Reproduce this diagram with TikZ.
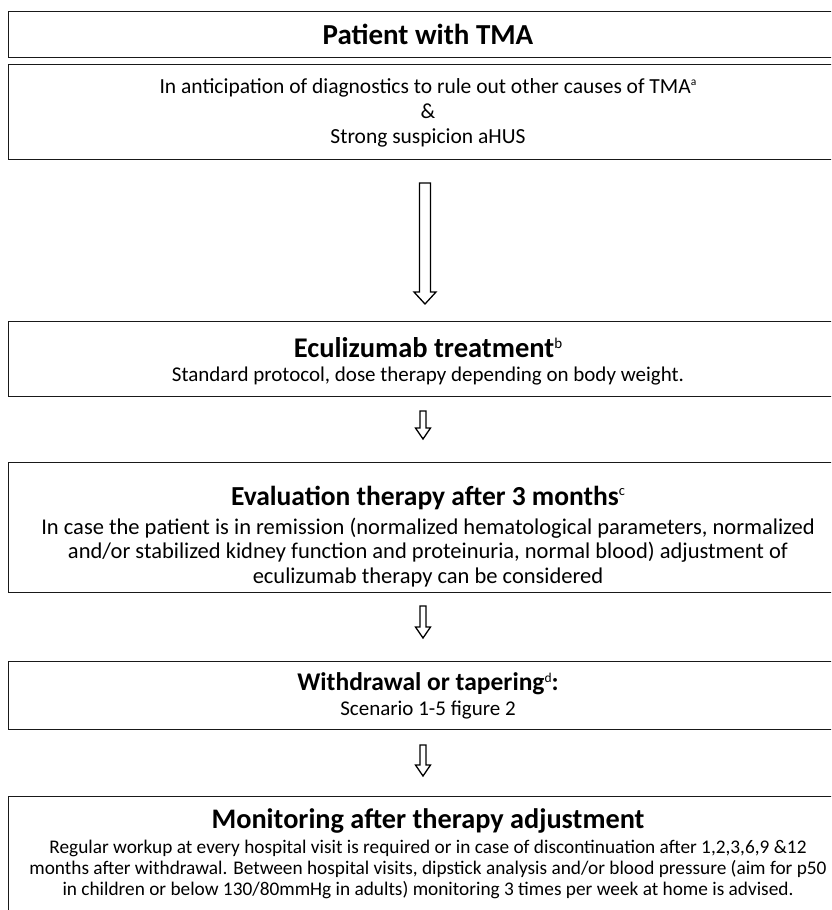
\documentclass[tikz,border=0pt]{standalone}
\usepackage{fontspec}
\setmainfont{Carlito}
\usetikzlibrary{calc}
\newcommand\supr[3]{\raisebox{#3}{\fontsize{#1}{#1}\selectfont\mdseries #2}}
\newcommand\fatarrow[5]{%
  \draw[arrowline] ($(#1)+(-#3,0)$) -- ($(#1)+(#3,0)$) -- ($(#2)+(#3,-#5)$) -- ($(#2)+(#4,-#5)$)
    -- (#2) -- ($(#2)+(-#4,-#5)$) -- ($(#2)+(-#3,-#5)$) -- cycle;}
\begin{document}
\begin{tikzpicture}[x=1pt,y=-1pt,
  box/.style={draw=black!90,line width=1.3pt,minimum width=860pt,minimum height=#1,anchor=north west,inner sep=0pt},
  arrowline/.style={draw=black,line width=1.3pt,fill=white,line join=miter},
  txt/.style={align=center,inner sep=0pt,anchor=center},
  ttl/.style={txt,font=\bfseries\fontsize{#1}{#1}\selectfont},
  body/.style 2 args={txt,font=\fontsize{#1}{#2}\selectfont}]
\useasboundingbox (0,0) rectangle (831,910);
\clip (0,0) rectangle (831,910);
\fill[white] (0,0) rectangle (831,910);
% boxes
\node[box=46pt]  (b1) at (8,11) {};
\node[box=95pt]  (b2) at (8,64) {};
\node[box=75pt]  (b3) at (8,321) {};
\node[box=130pt] (b4) at (8,462) {};
\node[box=68pt]  (b5) at (8,661) {};
\node[box=160pt] (b6) at (8,796) {};
% texts
\node[ttl=29] (t1) at (428,34) {Patient with TMA};
\node[body={21.5}{25}] (t2) at (428,113) {In anticipation of diagnostics to rule out other causes of TMA\supr{11.5}{a}{8.5pt}\\ \&\\ Strong suspicion aHUS};
\node[ttl=28.5] (t3a) at (428,347.5) {Eculizumab treatment\supr{15}{b}{9pt}};
\node[body={21}{24}] (t3b) at (428,376.5) {Standard protocol, dose therapy depending on body weight.};
\node[ttl=27.5] (t4a) at (428,498) {Evaluation therapy after 3 months\supr{14.5}{c}{10pt}};
\node[body={22.5}{24.5}] (t4b) at (428,552.5) {In case the patient is in remission (normalized hematological parameters, normalized\\ and/or stabilized kidney function and proteinuria, normal blood) adjustment of\\ eculizumab therapy can be considered};
\node[ttl=25.5] (t5a) at (428,684) {Withdrawal or tapering\supr{13.5}{d}{8pt}:};
\node[body={21}{23}] (t5b) at (428,710) {Scenario 1-5 figure 2};
\node[ttl=28.3] (t6a) at (428,820.5) {Monitoring after therapy adjustment};
\node[body={19.3}{21}] (t6b) at (428,869.5) {Regular workup at every hospital visit is required or in case of discontinuation after 1,2,3,6,9 \&12\\ months after withdrawal. Between hospital visits, dipstick analysis and/or blood pressure (aim for p50\\ in children or below 130/80mmHg in adults) monitoring 3 times per week at home is advised.};
% arrow end points
\coordinate (a1s) at (425,183);   \coordinate (a1e) at (425,304);
\coordinate (a2s) at (423,411);   \coordinate (a2e) at (423,439);
\coordinate (a3s) at (423,606);   \coordinate (a3e) at (423,638);
\coordinate (a4s) at (423,745);   \coordinate (a4e) at (423,776);
\fatarrow{a1s}{a1e}{5.5}{11}{12}
\fatarrow{a2s}{a2e}{3}{7.5}{11}
\fatarrow{a3s}{a3e}{3}{7.5}{11}
\fatarrow{a4s}{a4e}{3}{7.5}{11}
\end{tikzpicture}
\end{document}
